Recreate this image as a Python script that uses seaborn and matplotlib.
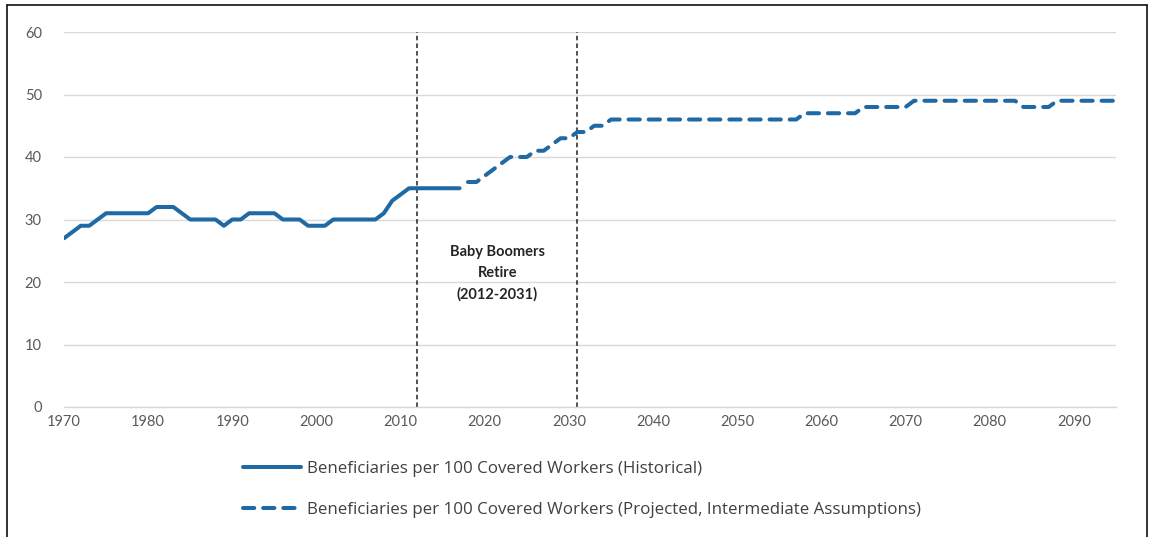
import matplotlib
matplotlib.use("Agg")
import matplotlib.pyplot as plt
from matplotlib.lines import Line2D
import seaborn as sns
import pandas as pd

# Beneficiaries per 100 covered workers
hist_years = list(range(1970, 2018))
hist_values = [27, 28, 29, 29, 30, 31, 31, 31, 31, 31,
               31, 32, 32, 32, 31, 30, 30, 30, 30, 29,
               30, 30, 31, 31, 31, 31, 30, 30, 30, 29,
               29, 29, 30, 30, 30, 30, 30, 30, 31, 33,
               34, 35, 35, 35, 35, 35, 35, 35]

proj_years = list(range(2018, 2096))
proj_values = [36, 36,
               37, 38, 39, 40, 40, 40, 41, 41, 42, 43,
               43, 44, 44, 45, 45, 46, 46, 46, 46, 46,
               46, 46, 46, 46, 46, 46, 46, 46, 46, 46,
               46, 46, 46, 46, 46, 46, 46, 46, 47, 47,
               47, 47, 47, 47, 47, 48, 48, 48, 48, 48,
               48, 49, 49, 49, 49, 49, 49, 49, 49, 49,
               49, 49, 49, 49, 48, 48, 48, 48, 49, 49,
               49, 49, 49, 49, 49, 49]

boomer_span = [2012, 2031]
x_ticks = list(range(1970, 2091, 10))
y_ticks = list(range(0, 61, 10))

hist_label = "Beneficiaries per 100 Covered Workers (Historical)"
proj_label = "Beneficiaries per 100 Covered Workers (Projected, Intermediate Assumptions)"

blue = "#1f6aa5"
grey_text = "#595959"
grid_col = "#d9d9d9"

sns.set_theme(style="white")
plt.rcParams["font.family"] = ["Lato", "DejaVu Sans"]

hist_df = pd.DataFrame({"year": hist_years, "value": hist_values})
proj_df = pd.DataFrame({"year": proj_years, "value": proj_values})

fig = plt.figure(figsize=(11.54, 5.37), dpi=100)
ax = fig.add_axes([64 / 1154, 1 - 407 / 537, (1116 - 64) / 1154, (407 - 32) / 537])

sns.lineplot(data=hist_df, x="year", y="value", ax=ax, color=blue, lw=2.9,
             solid_capstyle="round", solid_joinstyle="round", label=hist_label)
sns.lineplot(data=proj_df, x="year", y="value", ax=ax, color=blue, lw=2.9,
             linestyle=(0, (2.8, 2.2)), dash_capstyle="round", dash_joinstyle="round",
             label=proj_label)

for yr in boomer_span:
    ax.axvline(yr, color="#222222", lw=1.1, linestyle=(0, (3, 2)), zorder=1)

ax.text(sum(boomer_span) / 2, 21.4, "Baby Boomers\nRetire\n(2012-2031)",
        ha="center", va="center", fontsize=10.5, fontweight="bold",
        color="#262626", linespacing=1.6)

ax.set_xlim(1970, 2095)
ax.set_ylim(0, 60)
ax.set_xticks(x_ticks)
ax.set_yticks(y_ticks)
ax.yaxis.grid(True, color=grid_col, lw=1)
ax.set_axisbelow(True)
for side in ["left", "right", "top"]:
    ax.spines[side].set_visible(False)
ax.spines["bottom"].set_color(grid_col)
ax.spines["bottom"].set_linewidth(1)
ax.tick_params(axis="x", direction="in", length=4, color=grid_col,
               labelsize=10.5, labelcolor=grey_text, pad=6)
ax.tick_params(axis="y", length=0, labelsize=10.5, labelcolor=grey_text, pad=16)
ax.set_xlabel("")
ax.set_ylabel("")

handles, labels = ax.get_legend_handles_labels()
ax.get_legend().remove()
fig.legend(handles, labels, loc="upper left",
           bbox_to_anchor=(243 / 1154, 1 - 461 / 537), frameon=False,
           prop={"family": ["Open Sans", "DejaVu Sans"], "size": 12.2},
           labelcolor="#404040", handlelength=3.4,
           handletextpad=0.4, labelspacing=1.5, borderpad=0, borderaxespad=0)

# outer frame of the original picture
for (x0, y0, x1, y1) in [(7, 5, 7, 540), (7, 5, 1147, 5), (1147, 5, 1147, 540)]:
    fig.add_artist(Line2D([x0 / 1154, x1 / 1154], [1 - y0 / 537, 1 - y1 / 537],
                          color="#111111", lw=1.2, transform=fig.transFigure))

fig.savefig("out.png", dpi=100)
